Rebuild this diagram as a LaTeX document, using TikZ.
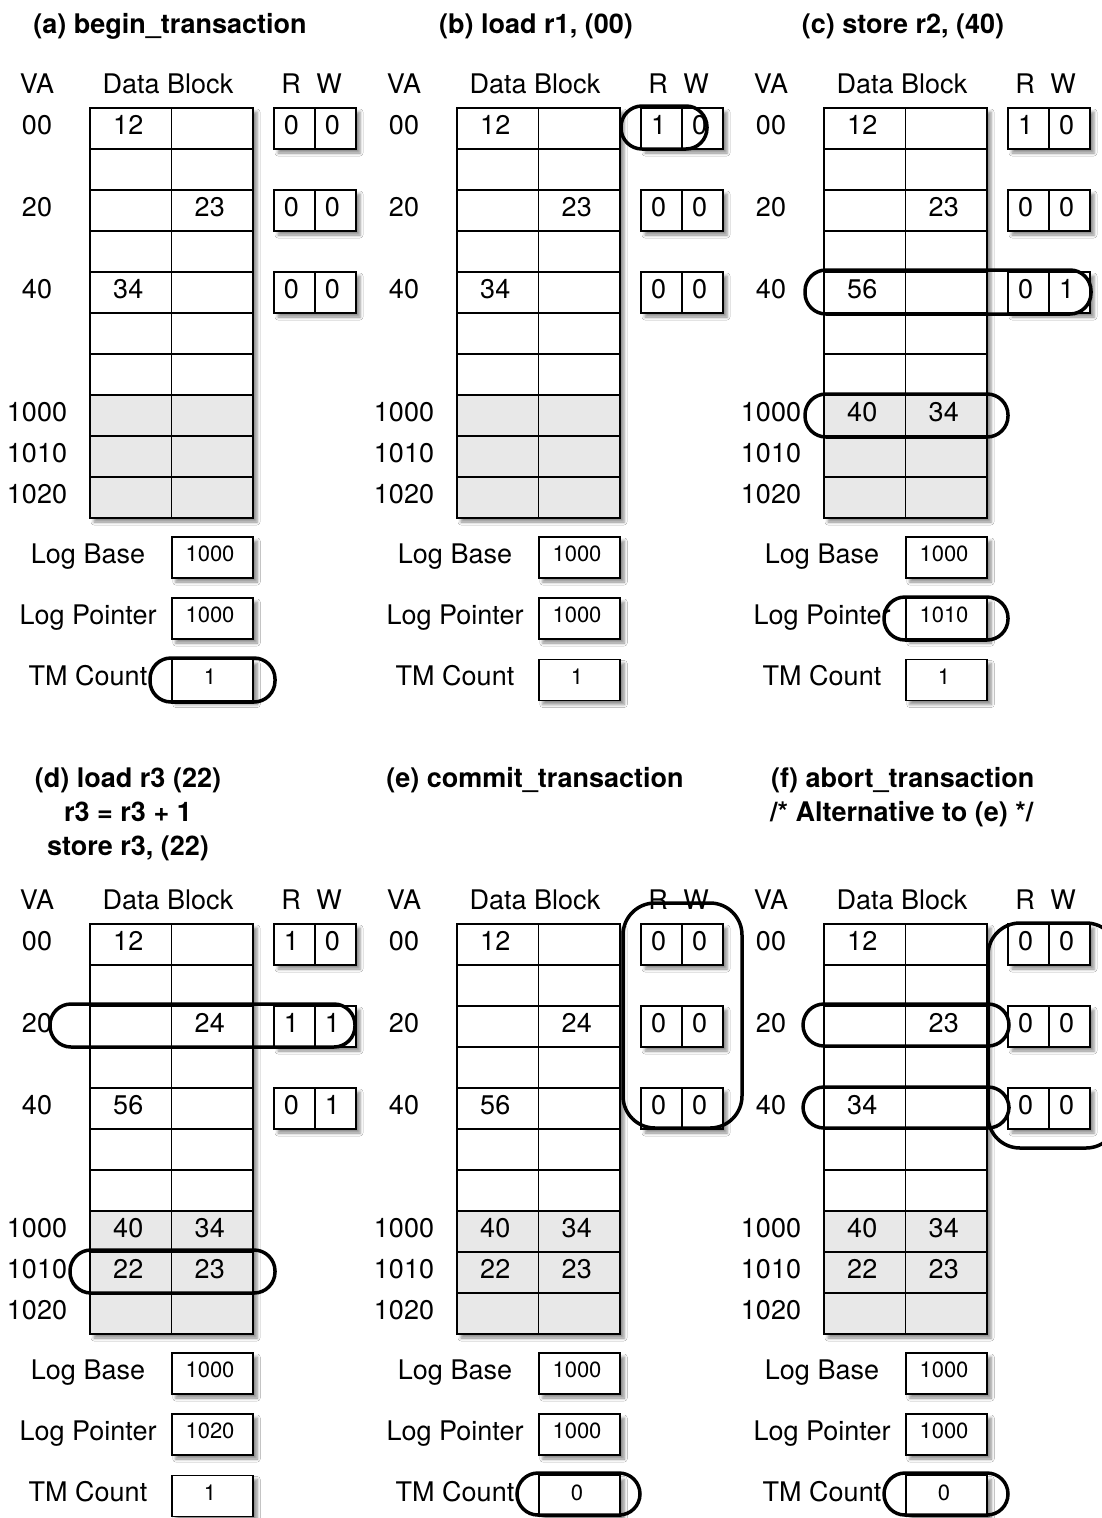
\documentclass[tikz,border=0pt]{standalone}
\usepackage{fontspec}
\setmainfont{TeX Gyre Heros}
\usetikzlibrary{shadows.blur}
\definecolor{loggray}{HTML}{E8E8E8}

\tikzset{
  boxshadow/.style={blur shadow={shadow xshift=4pt,shadow yshift=-4pt,
      shadow blur radius=3pt,shadow opacity=45}},
  cellbox/.style={draw,line width=1.6pt,minimum width=81.5pt,
      minimum height=41pt,inner sep=0pt},
  bitbox/.style={cellbox,fill=white,minimum width=41pt},
  lbl/.style={font=\fontsize{27}{32}\selectfont,inner sep=0pt,anchor=base},
  val/.style={font=\fontsize{22}{26}\selectfont,inner sep=0pt,anchor=base},
  ttl/.style={font=\fontsize{27}{34}\selectfont\bfseries,inner sep=0pt,anchor=base},
  hilite/.style={line width=3.5pt,rounded corners=21pt},
}

% #1 prefix, #2 cells r/c/value, #3 R/W bits, #4 log pointer, #5 TM count
\newcommand{\txpanel}[5]{%
  \node[lbl] (#1-va) at (37,93) {VA};
  \node[lbl] (#1-db) at (168,93) {Data Block};
  \node[lbl] (#1-r) at (291,93) {R};
  \node[lbl] (#1-w) at (329,93) {W};
  % data block
  \node[cellbox,minimum width=163pt,minimum height=410pt,boxshadow] (#1-block) at (171.5,313) {};
  \foreach \r in {0,...,9}{
    \ifnum\r>6 \def\cellfill{loggray}\else\def\cellfill{white}\fi
    \foreach \c in {0,1}
      \node[cellbox,fill=\cellfill] (#1-cell-\r-\c) at ({130.75+81.5*\c},{128.5+41*\r}) {};
  }
  \foreach \r/\c/\v in {#2}
    \node[lbl] (#1-val-\r-\c) at ({128.25+81.5*\c},{134+41*\r}) {\v};
  \foreach \r/\t in {0/00,2/20,4/40,7/1000,8/1010,9/1020}
    \node[lbl] (#1-va-\r) at (37,{134+41*\r}) {\t};
  % R/W bits
  \foreach \rv/\wv [count=\k from 0] in {#3}{
    \node[cellbox,minimum width=82pt,boxshadow] (#1-rw-\k) at (315,{128.5+82*\k}) {};
    \node[bitbox] (#1-rb-\k) at (294.5,{128.5+82*\k}) {};
    \node[bitbox] (#1-wb-\k) at (335.5,{128.5+82*\k}) {};
    \node[lbl] (#1-rt-\k) at (291.5,{134+82*\k}) {\rv};
    \node[lbl] (#1-wt-\k) at (332.5,{134+82*\k}) {\wv};
  }
  % log registers
  \foreach \lab/\v/\yy [count=\k] in {Log Base/1000/557.5,Log Pointer/#4/618.5,TM Count/#5/680}{
    \node[lbl] (#1-reg-\k) at (88,{\yy+5.5}) {\lab};
    \node[cellbox,fill=white,boxshadow] (#1-box-\k) at (212.5,\yy) {};
    \node[val] (#1-regval-\k) at (210,{\yy+4}) {\v};
  }
}

\begin{document}
\begin{tikzpicture}[x=1pt,y=-1pt]
\useasboundingbox (0,0) rectangle (1102,1518);
\clip (0,0) rectangle (1102,1518);
\fill[white] (0,0) rectangle (1102,1518);

% titles
\node[ttl] (ttl-a) at (170,33) {(a) begin\_transaction};
\node[ttl] (ttl-b) at (536,33) {(b) load r1, (00)};
\node[ttl] (ttl-c) at (903,33) {(c) store r2, (40)};
\node[ttl] (ttl-d1) at (128,787) {(d) load r3 (22)};
\node[ttl] (ttl-d2) at (128,821) {r3 = r3 + 1};
\node[ttl] (ttl-d3) at (128,855) {store r3, (22)};
\node[ttl] (ttl-e) at (535,787) {(e) commit\_transaction};
\node[ttl,anchor=base west] (ttl-f1) at (771,787) {(f) abort\_transaction};
\node[ttl,anchor=base west] (ttl-f2) at (770,821) {/* Alternative to (e) */};

% (a)
\begin{scope}
  \txpanel{a}{0/0/12,2/1/23,4/0/34}{0/0,0/0,0/0}{1000}{1}
  \draw[hilite] (150,658) rectangle (275,702);
\end{scope}

% (b)
\begin{scope}[shift={(367,0)}]
  \txpanel{b}{0/0/12,2/1/23,4/0/34}{1/0,0/0,0/0}{1000}{1}
  \draw[hilite] (254,106) rectangle (340,149);
\end{scope}

% (c)
\begin{scope}[shift={(734,0)}]
  \txpanel{c}{0/0/12,2/1/23,4/0/56,7/0/40,7/1/34}{1/0,0/0,0/1}{1010}{1}
  \draw[hilite] (71,270) rectangle (357,314);
  \draw[hilite] (71,394) rectangle (274,437);
  \draw[hilite] (150,597) rectangle (274,640);
\end{scope}

% (d)
\begin{scope}[shift={(0,816)}]
  \txpanel{d}{0/0/12,2/1/24,4/0/56,7/0/40,7/1/34,8/0/22,8/1/23}{1/0,1/1,0/1}{1020}{1}
  \draw[hilite] (50,188) rectangle (355,231);
  \draw[hilite] (70,434) rectangle (275,477);
\end{scope}

% (e)
\begin{scope}[shift={(367,816)}]
  \txpanel{e}{0/0/12,2/1/24,4/0/56,7/0/40,7/1/34,8/0/22,8/1/23}{0/0,0/0,0/0}{1000}{0}
  \draw[hilite,rounded corners=32pt] (256,87) rectangle (375,312);
  \draw[hilite] (150,657) rectangle (273,699);
\end{scope}

% (f)
\begin{scope}[shift={(734,816)}]
  \txpanel{f}{0/0/12,2/1/23,4/0/34,7/0/40,7/1/34,8/0/22,8/1/23}{0/0,0/0,0/0}{1000}{0}
  \draw[hilite] (69,188) rectangle (275,230);
  \draw[hilite] (69,271) rectangle (275,312);
  \draw[hilite,rounded corners=32pt] (254,107) rectangle (384,332);
  \draw[hilite] (150,657) rectangle (274,699);
\end{scope}

\end{tikzpicture}
\end{document}
